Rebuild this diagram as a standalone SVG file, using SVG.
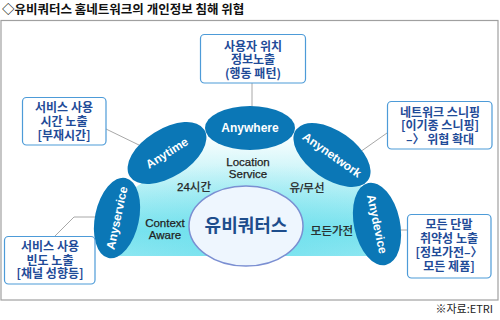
<svg xmlns="http://www.w3.org/2000/svg" width="500" height="320" viewBox="0 0 500 320">
<defs>
<linearGradient id="fan" x1="0" y1="0" x2="0" y2="1">
<stop offset="0" stop-color="#ffffff"/>
<stop offset="0.35" stop-color="#c8f4f8"/>
<stop offset="0.8" stop-color="#7fe4ef"/>
<stop offset="1" stop-color="#9aeaf3"/>
</linearGradient>
<radialGradient id="fade" cx="0.5" cy="1" r="0.75">
<stop offset="0" stop-color="#5fdceb" stop-opacity="0.6"/>
<stop offset="1" stop-color="#5fdceb" stop-opacity="0"/>
</radialGradient>
<style>
.box{fill:#ffffff;stroke:#4d9bd8;stroke-width:1.2}
.bt{font-family:"Noto Sans CJK KR",sans-serif;font-weight:bold;font-size:12px;fill:#1f4b98;text-anchor:middle}
.ell{fill:#0b77b6}
.et{font-family:"Liberation Sans",Arial,sans-serif;font-weight:bold;font-size:12px;fill:#ffffff;text-anchor:middle}
.lbl{font-family:"Liberation Sans","Noto Sans CJK KR",sans-serif;font-size:11.5px;fill:#222;stroke:#222;stroke-width:0.25;text-anchor:middle}
.conn{stroke:#a8a8a8;stroke-width:1;fill:none}
</style>
</defs>
<rect width="500" height="320" fill="#ffffff"/>
<text x="2" y="14" font-family="Noto Sans CJK KR,sans-serif" font-weight="bold" font-size="12.5" fill="#111">◇유비쿼터스 홈네트워크의 개인정보 침해 위협</text>
<rect x="1" y="20.5" width="497" height="279.5" fill="none" stroke="#a0a0a0" stroke-width="1.2"/>

<g id="background">
<path d="M110,256 L112,205 Q130,190 150,178 Q190,140 230,132 L270,132 Q310,140 350,178 Q372,192 382,210 L375,256 Z" fill="url(#fan)"/>
<path d="M110,256 L112,205 Q130,190 150,178 Q190,140 230,132 L270,132 Q310,140 350,178 Q372,192 382,210 L375,256 Z" fill="url(#fade)"/>
</g>

<g id="connectors">
<line class="conn" x1="252" y1="83" x2="252" y2="107"/>
<line class="conn" x1="106" y1="129" x2="141" y2="146"/>
<line class="conn" x1="387" y1="133" x2="360" y2="152"/>
<polyline class="conn" points="96,217 74,217 55,236"/>
<line class="conn" x1="399" y1="230" x2="407" y2="230"/>
</g>

<g id="center">
<ellipse cx="246" cy="226" rx="57" ry="40" fill="#eef6fe" stroke="#7b8fd2" stroke-width="1.5"/>
<text x="246" y="232" font-family="Noto Sans CJK KR,sans-serif" font-weight="bold" font-size="18" fill="#1d4d8c" text-anchor="middle">유비쿼터스</text>
</g>

<g id="labels">
<text class="lbl" x="248" y="166">Location</text>
<text class="lbl" x="248" y="178">Service</text>
<text class="lbl" x="194" y="191">24시간</text>
<text class="lbl" x="307" y="192">유/무선</text>
<text class="lbl" x="165" y="227">Context</text>
<text class="lbl" x="165" y="239">Aware</text>
<text class="lbl" x="332" y="235">모든가전</text>
</g>

<g id="anywhere">
<ellipse class="ell" cx="250" cy="128" rx="45" ry="22"/>
<text class="et" x="250" y="132">Anywhere</text>
</g>
<g id="anytime">
<ellipse class="ell" cx="167" cy="153" rx="44" ry="24" transform="rotate(-32 167 153)"/>
<text class="et" x="167" y="157" transform="rotate(-32 167 153)">Anytime</text>
</g>
<g id="anynetwork">
<ellipse class="ell" cx="332" cy="155" rx="44" ry="24" transform="rotate(35 332 155)"/>
<text class="et" x="332" y="159" transform="rotate(35 332 155)">Anynetwork</text>
</g>
<g id="anyservice">
<ellipse class="ell" cx="117" cy="218" rx="41" ry="22" transform="rotate(-78 117 218)"/>
<text class="et" x="117" y="222" transform="rotate(-78 117 218)">Anyservice</text>
</g>
<g id="anydevice">
<ellipse class="ell" cx="377" cy="224" rx="42" ry="23" transform="rotate(78 377 224)"/>
<text class="et" x="377" y="228" transform="rotate(78 377 224)">Anydevice</text>
</g>

<g id="box-top">
<rect class="box" x="200.5" y="34.5" width="105" height="48.5" rx="4"/>
<text class="bt" x="253" y="50.5">사용자 위치</text>
<text class="bt" x="253" y="64">정보노출</text>
<text class="bt" x="253" y="77.5">(행동 패턴)</text>
</g>
<g id="box-left-top">
<rect class="box" x="22.5" y="97.5" width="83.5" height="47.5" rx="4"/>
<text class="bt" x="64" y="112">서비스 사용</text>
<text class="bt" x="64" y="125.5">시간 노출</text>
<text class="bt" x="64" y="139.5">[부재시간]</text>
</g>
<g id="box-right-top">
<rect class="box" x="387.5" y="101.5" width="104.5" height="47.5" rx="4"/>
<text class="bt" x="440" y="116.5">네트워크 스니핑</text>
<text class="bt" x="440" y="130">[이기종 스니핑]</text>
<text class="bt" x="440" y="143.5">–〉 위협 확대</text>
</g>
<g id="box-left-bottom">
<rect class="box" x="4.5" y="236.5" width="90.5" height="47.5" rx="4"/>
<text class="bt" x="50" y="251">서비스 사용</text>
<text class="bt" x="50" y="264.5">빈도 노출</text>
<text class="bt" x="50" y="278">[채널 성향등]</text>
</g>
<g id="box-right-bottom">
<rect class="box" x="407.5" y="214.5" width="83.5" height="63.5" rx="4"/>
<text class="bt" x="449" y="229">모든 단말</text>
<text class="bt" x="449" y="243">취약성 노출</text>
<text class="bt" x="449" y="257">[정보가전–〉</text>
<text class="bt" x="449" y="271">모든 제품]</text>
</g>

<text x="493" y="313" font-family="Noto Sans CJK KR,sans-serif" font-size="11" fill="#222" text-anchor="end">※자료:ETRI</text>
</svg>
